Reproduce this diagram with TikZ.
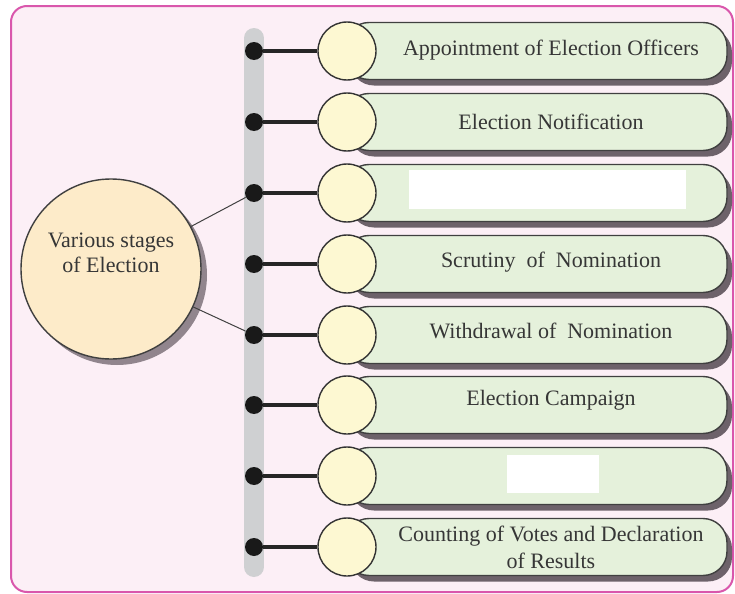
\documentclass[tikz,border=0pt]{standalone}
\usepackage{fontspec}
\setmainfont{Liberation Serif}
\usetikzlibrary{shadows}

\definecolor{framepink}{HTML}{D957AC}
\definecolor{bgpink}{HTML}{FCEFF6}
\definecolor{bargray}{HTML}{CFD0D2}
\definecolor{boxgreen}{HTML}{E5F1DB}
\definecolor{circyellow}{HTML}{FDF8D2}
\definecolor{bigcream}{HTML}{FDEBC9}
\definecolor{textgray}{HTML}{363636}
\definecolor{shadowgray}{HTML}{4A3F48}

\tikzset{
  stagebox/.style={draw=black!75, line width=0.7pt, fill=boxgreen, rounded corners=12pt,
    minimum width=191pt, minimum height=28.5pt, inner sep=0pt,
    drop shadow={shadow xshift=2.5pt, shadow yshift=-3pt, fill=shadowgray, opacity=0.8}},
  stagetext/.style={text=textgray, align=center, font=\fontsize{11}{13.5}\selectfont},
  stagecirc/.style={circle, draw=black!80, line width=0.7pt, fill=circyellow, minimum size=29pt, inner sep=0pt},
  dot/.style={circle, fill=black!90, minimum size=9pt, inner sep=0pt},
  link/.style={line width=2pt, black!85},
  spoke/.style={line width=0.5pt, black!75},
  bigcirc/.style={circle, draw=black!75, line width=0.7pt, fill=bigcream, minimum size=90pt,
    align=center, text=textgray, font=\fontsize{11}{12.5}\selectfont,
    drop shadow={shadow xshift=3pt, shadow yshift=-3pt, fill=shadowgray, opacity=0.6}}
}

\begin{document}
\begin{tikzpicture}[x=0.5pt, y=-0.5pt]
\useasboundingbox (0,0) rectangle (735,594);

% Draw the frame
\draw[framepink, line width=1pt, fill=bgpink, rounded corners=8pt] (11,6) rectangle (733,592);

% Draw the bar
\draw[bargray, line width=10pt, line cap=round] (254,38) -- (254,567);

% Draw the stages
\foreach \i/\y in {1/51, 2/122, 3/193, 4/264, 5/335, 6/405, 7/476, 8/547} {
    \node[stagebox] (box\i) at (536,\y) {};
    \node[stagecirc] (circ\i) at (347,\y) {};
    \node[dot] (dot\i) at (254,\y) {};
    \draw[link] (dot\i) -- (circ\i);
}

% Labels
\foreach \i/\y/\txt in {1/50/{Appointment of Election Officers}, 2/122/{Election Notification},
    4/262/{Scrutiny\ \ of\ \ Nomination}, 5/331/{Withdrawal of\ \ Nomination},
    6/400/{Election Campaign}, 8/547/{Counting of Votes and Declaration\\of Results}} {
    \node[stagetext] (txt\i) at (551,\y) {\txt};
}

% Blanks
\fill[white] (409,170) rectangle (686,209);
\fill[white] (507,455) rectangle (599,493);

% Draw the centre
\node[bigcirc] (stages) at (111,269) {Various stages\\of Election\\[4pt]};
\draw[spoke] (stages) -- (dot3);
\draw[spoke] (stages) -- (dot5);

\end{tikzpicture}
\end{document}
